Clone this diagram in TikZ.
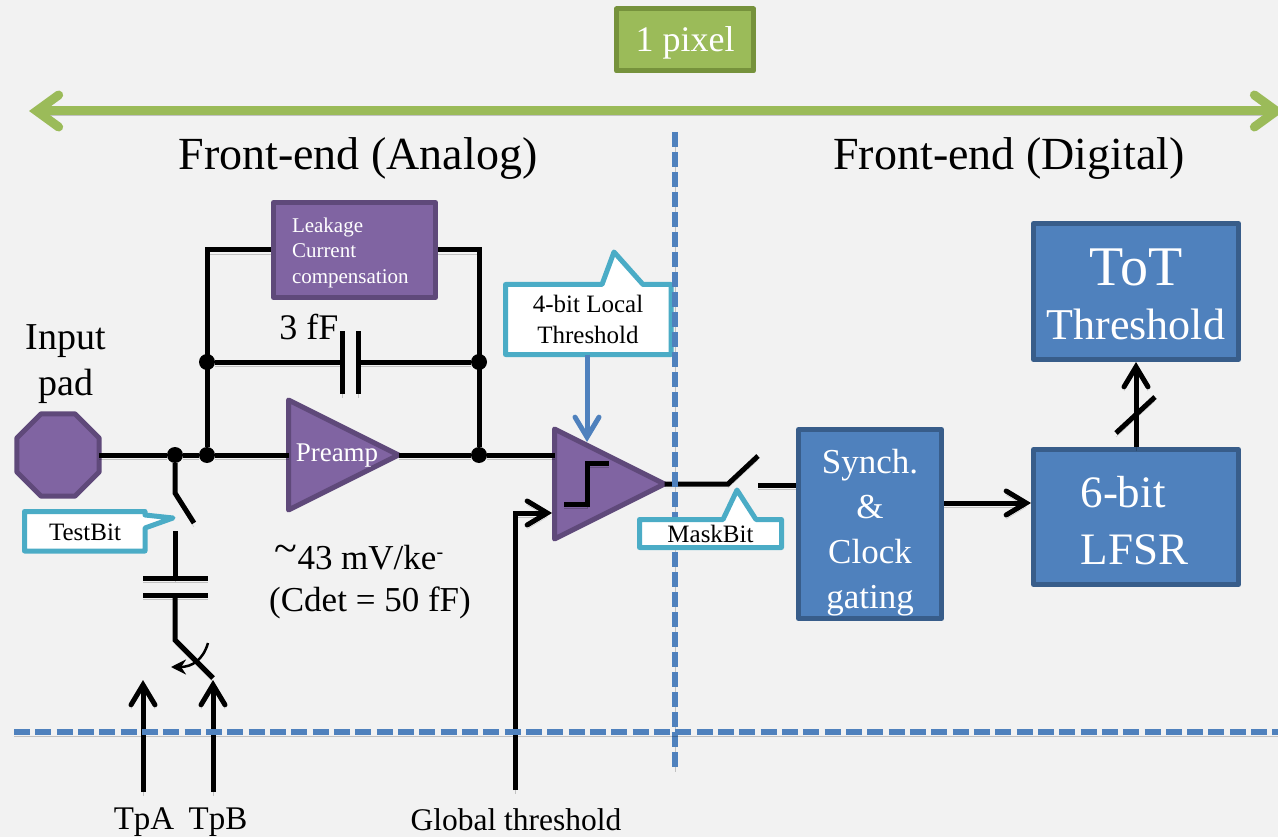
\documentclass[tikz,border=0pt]{standalone}
\usepackage{fontspec}
\setmainfont{Liberation Serif}
\usepackage{tikz}
\usetikzlibrary{shapes.geometric,arrows.meta}

\definecolor{slide}{HTML}{F2F2F2}
\definecolor{pxgreen}{HTML}{9BBB59}
\definecolor{pxgreendk}{HTML}{76923C}
\definecolor{anpurple}{HTML}{8064A2}
\definecolor{anpurpledk}{HTML}{5F497A}
\definecolor{digblue}{HTML}{4F81BD}
\definecolor{digbluedk}{HTML}{385D8A}
\definecolor{calloutblue}{HTML}{4BACC6}

\newcommand{\fsz}[2]{\fontsize{#1}{#2}\selectfont}

\tikzset{
  softshadow/.style={preaction={draw=black,opacity=.2,transform canvas={yshift=-4pt}}},
  wire/.style={draw=black,line width=5pt,softshadow},
  sig/.style={wire,-{Straight Barb[length=20pt,width=24pt,line cap=round]}},
  cutline/.style={draw=digblue,line width=5.5pt,softshadow},
  jdot/.style={circle,fill=black,minimum size=16pt,inner sep=0pt},
  anbox/.style={draw=anpurpledk,fill=anpurple,line width=5pt,text=white,inner sep=0pt,line join=round},
  digbox/.style={draw=digbluedk,fill=digblue,line width=5pt,text=white,inner sep=0pt,align=center,line join=round},
  ampshape/.style={isosceles triangle,isosceles triangle stretches,shape border rotate=0,anchor=lower side,
    draw=anpurpledk,fill=anpurple,line width=5pt,line join=round,inner sep=0pt,outer sep=0pt,
    minimum width=110pt,minimum height=110pt},
  calloutline/.style={draw=calloutblue,fill=white,line width=5pt,line join=round},
  callouttext/.style={font=\fsz{25}{31},align=center,inner sep=0pt},
  txt/.style={align=center,inner sep=0pt},
  heading/.style={txt,font=\fsz{46}{50}}
}

\begin{document}
\begin{tikzpicture}[x=1pt,y=-1pt]
  \fill[slide] (0,0) rectangle (1278,837);
  \useasboundingbox (0,0) rectangle (1278,837);

  % Pixel width
  \node[draw=pxgreendk,fill=pxgreen,line width=5pt,text=white,font=\fsz{36}{40},minimum width=137pt,minimum height=62pt,inner sep=0pt,line join=round] (pixel) at (685,40) {\rule{0pt}{31pt}1 pixel};
  \coordinate (pixelL) at (29,111);
  \coordinate (pixelR) at (1284,111);
  \draw[draw=pxgreen,line width=9pt,softshadow,{Straight Barb[length=22pt,width=32pt,line cap=round]}-{Straight Barb[length=22pt,width=32pt,line cap=round]}] (pixelL) -- (pixelR);

  % Headings
  \node[heading] (analog) at (358,159) {Front-end (Analog)};
  \node[heading] (digital) at (1009,159) {Front-end (Digital)};

  % Input pad and feedback
  \node[regular polygon,regular polygon sides=8,draw=anpurpledk,fill=anpurple,line width=5pt,minimum size=89pt,inner sep=0pt,outer sep=0pt,line join=round] (pad) at (58,455) {};
  \node[txt,font=\fsz{38}{46}] (padlabel) at (66,364) {Input\\pad};
  \node[jdot] (jtest) at (175,455) {};
  \node[jdot] (jin) at (207,455) {};
  \node[jdot] (jout) at (479,455) {};
  \node[jdot] (jcapL) at (207,362) {};
  \node[jdot] (jcapR) at (479,362) {};
  \node[anbox,font=\fsz{21}{25.5},align=left,text width=125pt,inner xsep=18.5pt,minimum height=95pt] (leak) at (354.5,250) {\rule{0pt}{20pt}Leakage\\Current\\compensation};
  \node[ampshape] (preamp) at (288.5,455) {};
  \node[txt,text=white,font=\fsz{27}{30}] (preamplabel) at (337,456) {Preamp};
  \node[ampshape] (comp) at (554.5,484) {};
  \coordinate (capL) at (342,362);
  \coordinate (capR) at (358,362);
  \node[txt,font=\fsz{36}{40}] (caplabel) at (309,327) {3 fF};

  \draw[wire] (pad) -- (jtest);
  \draw[wire] (jtest) -- (jin);
  \draw[wire] (jin) -- (preamp.lower side);
  \draw[wire] (preamp.apex) -- (jout);
  \draw[wire] (jout) -- (jout -| comp.lower side);
  \draw[wire] (jin) |- (leak.west);
  \draw[wire] (leak.east) -| (jout);
  \draw[wire] (jcapL) -- (capL);
  \draw[wire] (capR) -- (jcapR);
  \draw[wire] (capL) ++(0,-31) -- ++(0,63);
  \draw[wire] (capR) ++(0,-31) -- ++(0,63);

  % Comparator step
  \coordinate (stepA) at (564,504);
  \coordinate (stepB) at (587,504);
  \coordinate (stepC) at (587,463);
  \coordinate (stepD) at (609,463);
  \draw[wire,line join=miter] (stepA) -- (stepB) -- (stepC) -- (stepD);

  % Test injection
  \coordinate (testA) at (175,493);
  \coordinate (testB) at (194,523);
  \coordinate (testC) at (175,531);
  \coordinate (tcapT) at (175,578);
  \coordinate (tcapB) at (175,595);
  \coordinate (tpS) at (175,640);
  \coordinate (tpT) at (213,678);
  \draw[wire] (jtest) -- (testA) -- (testB);
  \draw[wire] (testC) -- (tcapT);
  \draw[wire] (tcapT) ++(-32,0) -- ++(65,0);
  \draw[wire] (tcapB) ++(-32,0) -- ++(65,0);
  \draw[wire] (tcapB) -- (tpS) -- (tpT);
  \coordinate (rotA) at (208,643);
  \coordinate (rotB) at (171,667);
  \draw[black,line width=2.5pt,-{Stealth[length=15pt,width=15pt]}] (rotA) .. controls (203,660) and (192,667) .. (rotB);

  \node[txt,font=\fsz{33}{36}] (tpa) at (144,822) {TpA};
  \node[txt,font=\fsz{33}{36}] (tpb) at (218,822) {TpB};
  \coordinate (tpaEnd) at (143,792);
  \coordinate (tpaTip) at (143,680);
  \coordinate (tpbEnd) at (213,792);
  \coordinate (tpbTip) at (213,680);
  \draw[sig] (tpaEnd) -- (tpaTip);
  \draw[sig] (tpbEnd) -- (tpbTip);

  % Global threshold
  \node[txt,font=\fsz{31.5}{34}] (gth) at (516,820) {Global threshold};
  \coordinate (gthEnd) at (515,790);
  \coordinate (gthTip) at (552,513);
  \draw[sig] (gthEnd) |- (gthTip);

  \node[txt,font=\fsz{35}{42}] (gainnote) at (370,582) {\raisebox{7pt}{\fsz{42}{42}\textasciitilde}43 mV/ke\raisebox{11pt}{\fsz{20}{20}-}\hspace*{22pt}\\(Cdet = 50 fF)};

  % Callouts and cut lines
  \draw[calloutline] (505.5,284.5) -- (602,284.5) -- (614,252) -- (643,284.5) -- (671,284.5) -- (671,354.5) -- (505.5,354.5) -- cycle;
  \node[callouttext,minimum width=165pt,minimum height=70pt] (localth) at (588,319.5) {4-bit Local\\Threshold};
  \coordinate (localTip) at (587,442);
  \draw[draw=digblue,line width=5pt,-{Straight Barb[length=20pt,width=24pt,line cap=round]}] (localth.south -| localTip) -- (localTip);

  \draw[calloutline] (24.5,511.5) -- (145,511.5) -- (145,515) -- (173,518) -- (145,528) -- (145,551) -- (24.5,551) -- cycle;
  \node[callouttext,minimum width=120pt,minimum height=39pt] (testbit) at (85,532) {TestBit};

  \coordinate (maskA) at (728,484);
  \coordinate (maskB) at (758,456);
  \coordinate (maskC) at (758,485);
  \draw[wire] (comp.apex) -- (maskA) -- (maskB);

  \coordinate (vcutT) at (675,132);
  \coordinate (vcutB) at (675,768);
  \coordinate (hcutL) at (14,732);
  \coordinate (hcutR) at (1278,732);
  \draw[cutline,dash pattern=on 15pt off 5pt] (vcutT) -- (vcutB);
  \draw[cutline,dash pattern=on 16pt off 5.33pt] (hcutL) -- (hcutR);

  \draw[calloutline] (639.5,519.5) -- (723,519.5) -- (737,490) -- (756,519.5) -- (781.5,519.5) -- (781.5,547.5) -- (639.5,547.5) -- cycle;
  \node[callouttext,minimum width=142pt,minimum height=28pt] (maskbit) at (710.5,534) {MaskBit};

  % Digital blocks
  \node[digbox,font=\fsz{35}{45},minimum width=143pt,minimum height=189pt] (synch) at (870,524) {\rule{0pt}{42pt}Synch.\\\&\\Clock\\gating};
  \node[digbox,font=\fsz{45}{57},minimum width=205pt,minimum height=135pt,align=left,text width=111pt,inner xsep=47pt] (lfsr) at (1136,517) {\rule{0pt}{39pt}6-bit\\LFSR};
  \node[digbox,font=\fsz{44}{54},minimum width=205pt,minimum height=136pt] (tot) at (1136,291.5) {\rule{0pt}{43pt}{\fsz{56}{54}ToT}\\Threshold};

  \draw[wire] (maskC) -- (maskC -| synch.west);
  \coordinate (synchOut) at (944,503);
  \draw[sig] (synchOut) -- (synchOut -| lfsr.west);
  \draw[sig] (lfsr.north) -- (tot.south);
  \coordinate (slashA) at (1116,433);
  \coordinate (slashB) at (1155,397);
  \draw[wire] (slashA) -- (slashB);
\end{tikzpicture}
\end{document}
